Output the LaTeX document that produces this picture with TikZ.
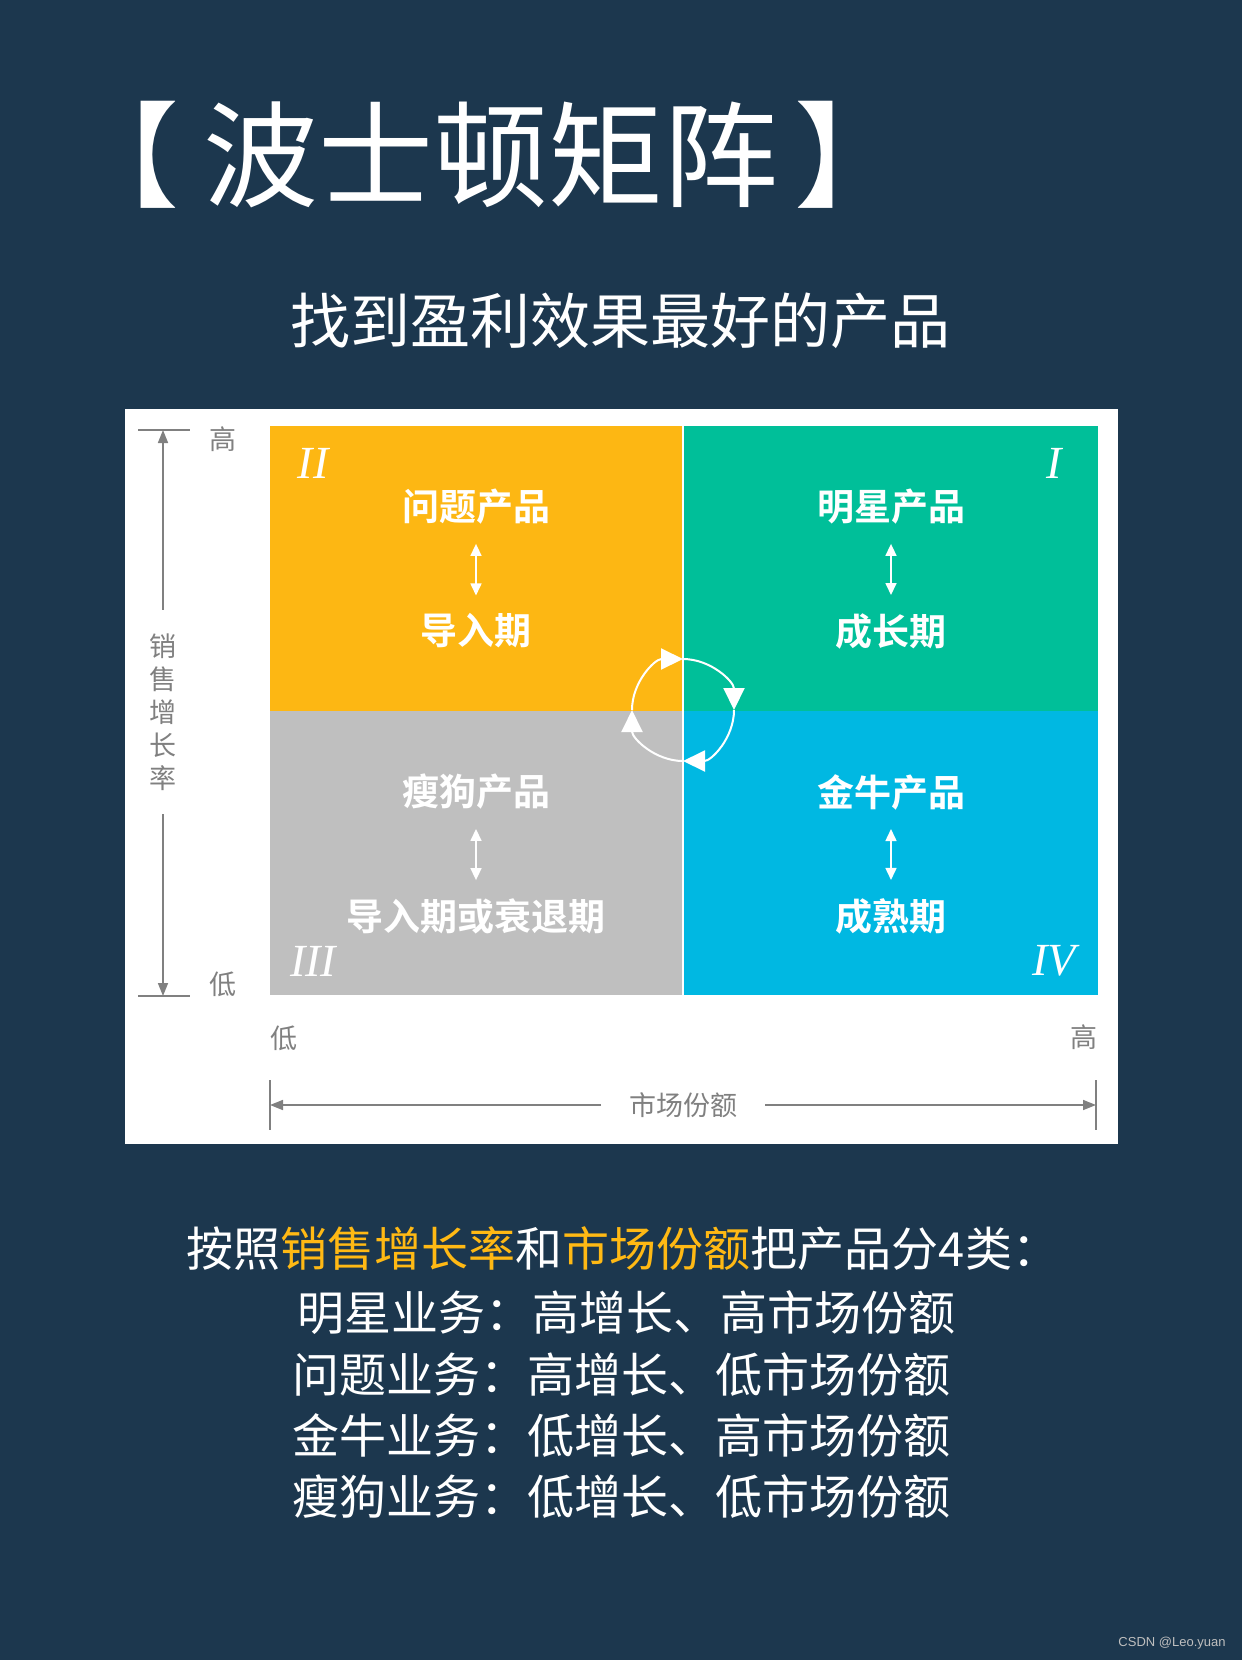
\documentclass[tikz,border=0pt]{standalone}
\usepackage{fontspec}
\usepackage{xcolor}
\usepackage{tikz}
\usetikzlibrary{arrows.meta, positioning, calc}
\newfontfamily\cjk{Noto Sans CJK SC}
\newfontfamily\cjkb{Noto Sans CJK SC Bold}
\newfontfamily\numfont{Liberation Serif}
\newfontfamily\wmfont{Liberation Sans}
\definecolor{navy}{HTML}{1C374E}
\definecolor{qorange}{HTML}{FDB713}
\definecolor{qgreen}{HTML}{00BF99}
\definecolor{qgray}{HTML}{BFBFBF}
\definecolor{qblue}{HTML}{00B8E2}
\definecolor{axgray}{HTML}{808080}
\definecolor{hlorange}{HTML}{FFB914}

\begin{document}
\begin{tikzpicture}[
  x=1pt, y=1pt,
  qtext/.style={text=white, font=\cjkb\fontsize{37}{40}\selectfont, inner sep=0pt},
  roman/.style={text=white, font=\numfont\itshape\fontsize{46}{46}\selectfont, inner sep=0pt},
  axlab/.style={text=axgray, font=\cjk\fontsize{27}{33}\selectfont, inner sep=0pt},
  body/.style={text=white, font=\cjk\fontsize{47}{50}\selectfont, inner sep=0pt},
  dbl/.style={{Triangle[width=11pt,length=12pt]}-{Triangle[width=11pt,length=12pt]},
              white, line width=1.6pt, shorten <=19pt, shorten >=18pt},
  arr/.style={-{Triangle[width=10pt,length=13pt]}, axgray, line width=1.6pt},
  tickln/.style={axgray, line width=1.6pt},
  cyc/.style={-{Triangle[width=21pt,length=22pt]}, white, line width=2pt}
]
\fill[navy] (0,0) rectangle (1242,-1660);
\useasboundingbox (0,0) rectangle (1242,-1660);

% title
\node[text=white, font=\cjk\fontsize{115}{120}\selectfont, inner sep=0pt] (title) at (487,-155) {【\kern24pt 波士顿矩阵\kern16pt】};
\node[text=white, font=\cjk\fontsize{60}{64}\selectfont, inner sep=0pt] (sub) at (620,-321) {找到盈利效果最好的产品};

% matrix panel
\fill[white] (125,-409) rectangle (1118,-1144);
\fill[qorange] (270,-426) rectangle (682,-711);
\fill[qgreen] (684,-426) rectangle (1098,-711);
\fill[qgray] (270,-711) rectangle (682,-995);
\fill[qblue] (684,-711) rectangle (1098,-995);

\node[roman] (r2) at (313,-463) {II};
\node[roman] (r1) at (1054,-463) {I};
\node[roman] (r3) at (313,-961) {III};
\node[roman] (r4) at (1054,-961) {IV};

\node[qtext] (q2a) at (476,-507) {问题产品};
\node[qtext] (q2b) at (476,-631) {导入期};
\node[qtext] (q1a) at (891,-507) {明星产品};
\node[qtext] (q1b) at (891,-631) {成长期};
\node[qtext] (q3a) at (476,-792) {瘦狗产品};
\node[qtext] (q3b) at (476,-916) {导入期或衰退期};
\node[qtext] (q4a) at (891,-792) {金牛产品};
\node[qtext] (q4b) at (891,-916) {成熟期};

\draw[dbl] (q2a) -- (q2b);
\draw[dbl] (q1a) -- (q1b);
\draw[dbl] (q3a) -- (q3b);
\draw[dbl] (q4a) -- (q4b);

% cycle in the middle
\coordinate (hub) at (683,-710);
\foreach \a in {180,90,0,-90}
  \draw[cyc] ($(hub)+(\a:51)$) arc[start angle=\a, end angle=\a-90, radius=51];

% vertical axis
\coordinate (ytop) at (163,-430);
\coordinate (ybot) at (163,-996);
\draw[tickln] ([xshift=-25pt]ytop) -- ([xshift=27pt]ytop);
\draw[tickln] ([xshift=-25pt]ybot) -- ([xshift=27pt]ybot);
\node[axlab, align=center, outer sep=24pt] (ylab) at (163,-712) {销\\售\\增\\长\\率};
\draw[arr] (ylab) -- (ytop);
\draw[arr] (ylab) -- (ybot);
\node[axlab] (yhi) at (223,-439) {高};
\node[axlab] (ylo) at (223,-984) {低};

% horizontal axis
\node[axlab] (xlo) at (284,-1038) {低};
\node[axlab] (xhi) at (1084,-1037) {高};
\coordinate (xl) at (270,-1105);
\coordinate (xr) at (1096,-1105);
\draw[tickln] ([yshift=25pt]xl) -- ([yshift=-25pt]xl);
\draw[tickln] ([yshift=25pt]xr) -- ([yshift=-25pt]xr);
\node[axlab, outer sep=28pt] (xlab) at (683,-1105) {市场份额};
\draw[arr] (xlab) -- (xl);
\draw[arr] (xlab) -- (xr);

% summary
\node[body] (l1) at (623,-1249) {按照\textcolor{hlorange}{销售增长率}和\textcolor{hlorange}{市场份额}把产品分4类：};
\node[body] (l2) at (626,-1313) {明星业务：高增长、高市场份额};
\node[body, below=17pt of l2.south west, anchor=north west, xshift=-5pt] (l3) {问题业务：高增长、低市场份额};
\node[body, below=17pt of l3.south west, anchor=north west] (l4) {金牛业务：低增长、高市场份额};
\node[body, below=17pt of l4.south west, anchor=north west] (l5) {瘦狗业务：低增长、低市场份额};

\node[text=black!25, font=\wmfont\fontsize{13}{13}\selectfont, inner sep=0pt] (wm) at (1172,-1643) {CSDN @Leo.yuan};
\end{tikzpicture}
\end{document}
